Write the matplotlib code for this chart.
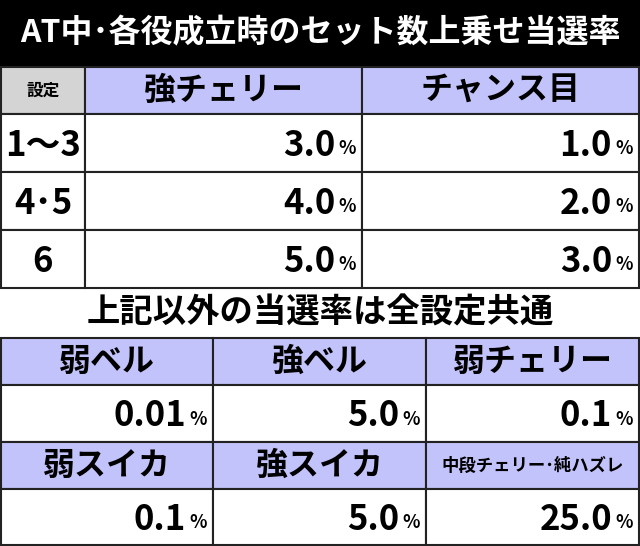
import matplotlib
matplotlib.use("Agg")
import matplotlib.pyplot as plt
from matplotlib.patches import Rectangle

plt.rcParams["font.family"] = ["Noto Sans CJK JP", "DejaVu Sans"]

TITLE = "AT中･各役成立時のセット数上乗せ当選率"
SUBTITLE = "上記以外の当選率は全設定共通"
SETTING_HEADER = "設定"
TOP_ROLES = ["強チェリー", "チャンス目"]
SETTINGS = ["1～3", "4･5", "6"]
TOP_VALUES = [["3.0", "1.0"], ["4.0", "2.0"], ["5.0", "3.0"]]
BOTTOM_ROLES = [["弱ベル", "強ベル", "弱チェリー"],
                ["弱スイカ", "強スイカ", "中段チェリー･純ハズレ"]]
BOTTOM_VALUES = [["0.01", "5.0", "0.1"], ["0.1", "5.0", "25.0"]]

W, H = 640, 546
HEAD_BG = "#c3c3fb"
GRAY_BG = "#d4d4d4"

fig = plt.figure(figsize=(W / 100, H / 100), dpi=100)
ax = fig.add_axes([0, 0, 1, 1])
ax.set_xlim(0, W)
ax.set_ylim(H, 0)
ax.axis("off")


def cell(x0, y0, x1, y1, color="white"):
    ax.add_patch(Rectangle((x0, y0), x1 - x0, y1 - y0, facecolor=color,
                           edgecolor="#222222", linewidth=1.5))


def value_text(x1, yc, val):
    ax.text(x1 - 27, yc + 2, val, ha="right", va="center", fontsize=25,
            fontweight="bold")
    ax.text(x1 - 6, yc + 6, "%", ha="right", va="center", fontsize=13,
            fontweight="bold")


# title band
ax.add_patch(Rectangle((0, 0), W, 66, facecolor="black"))
ax.text(W / 2, 33, TITLE, ha="center", va="center", color="white",
        fontsize=23, fontweight="bold")

# top table
cols = [1, 85, 362, 639]
rows = [67, 114, 172, 230, 288]
cell(cols[0], rows[0], cols[1], rows[1], GRAY_BG)
ax.text((cols[0] + cols[1]) / 2, (rows[0] + rows[1]) / 2, SETTING_HEADER,
        ha="center", va="center", fontsize=12, fontweight="bold")
for j, role in enumerate(TOP_ROLES):
    cell(cols[j + 1], rows[0], cols[j + 2], rows[1], HEAD_BG)
    ax.text((cols[j + 1] + cols[j + 2]) / 2, (rows[0] + rows[1]) / 2, role,
            ha="center", va="center", fontsize=23, fontweight="bold")
for i, setting in enumerate(SETTINGS):
    y0, y1 = rows[i + 1], rows[i + 2]
    cell(cols[0], y0, cols[1], y1)
    ax.text((cols[0] + cols[1]) / 2, (y0 + y1) / 2 + 2, setting,
            ha="center", va="center", fontsize=25, fontweight="bold")
    for j, val in enumerate(TOP_VALUES[i]):
        cell(cols[j + 1], y0, cols[j + 2], y1)
        value_text(cols[j + 2], (y0 + y1) / 2, val)

# subtitle
ax.text(W / 2, 313, SUBTITLE, ha="center", va="center", fontsize=24,
        fontweight="bold")

# bottom table
bcols = [1, 213, 426, 639]
brows = [338, 385, 442, 489, 545]
for r in range(2):
    hy0, hy1, vy1 = brows[2 * r], brows[2 * r + 1], brows[2 * r + 2]
    for j in range(3):
        role = BOTTOM_ROLES[r][j]
        cell(bcols[j], hy0, bcols[j + 1], hy1, HEAD_BG)
        fs = 23 if len(role) < 8 else 12.5
        ax.text((bcols[j] + bcols[j + 1]) / 2, (hy0 + hy1) / 2, role,
                ha="center", va="center", fontsize=fs, fontweight="bold")
        cell(bcols[j], hy1, bcols[j + 1], vy1)
        value_text(bcols[j + 1], (hy1 + vy1) / 2, BOTTOM_VALUES[r][j])

fig.savefig("out.png", dpi=100)
